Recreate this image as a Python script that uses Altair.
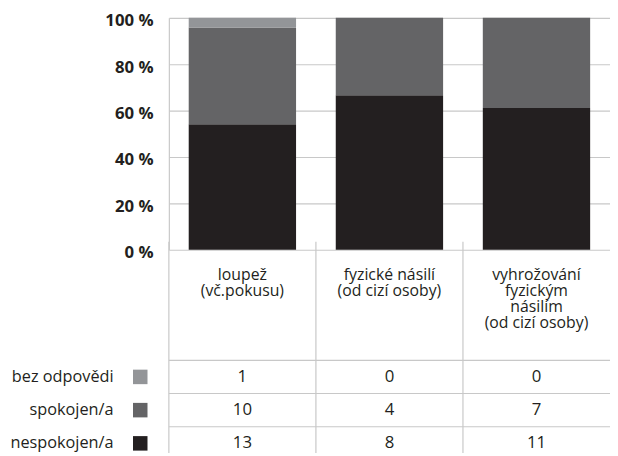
import altair as alt
import pandas as pd

# ---- data ----
categories = [
    "loupež\n(vč.pokusu)",
    "fyzické násilí\n(od cizí osoby)",
    "vyhrožování\nfyzickým\nnásilím\n(od cizí osoby)",
]
responses = ["bez odpovědi", "spokojen/a", "nespokojen/a"]
bez_odpovedi = [1, 0, 0]
spokojen = [10, 4, 7]
nespokojen = [13, 8, 11]
colors = ["#939598", "#646466", "#231f20"]
y_ticks = [0, 0.2, 0.4, 0.6, 0.8, 1.0]

rows = []
for i, cat in enumerate(categories):
    for resp, vals, order in [
        ("nespokojen/a", nespokojen, 0),
        ("spokojen/a", spokojen, 1),
        ("bez odpovědi", bez_odpovedi, 2),
    ]:
        rows.append({"cat": cat, "resp": resp, "count": vals[i], "ord": order})
df = pd.DataFrame(rows)
df_cat = pd.DataFrame({"cat": categories})
df_resp = pd.DataFrame({"resp": responses})

FONT = "Open Sans"
TXT = "#231f20"
LINE = "#c8c8c8"

x_scale = alt.Scale(domain=categories, paddingInner=0, paddingOuter=0)
color_scale = alt.Scale(domain=responses, range=colors)
table_y = alt.Scale(domain=responses, range=[347, 448], paddingInner=0, paddingOuter=0)

bars = alt.Chart(df).mark_bar(width=alt.RelativeBandSize(0.73)).encode(
    x=alt.X("cat:N", scale=x_scale, axis=None, sort=categories),
    y=alt.Y(
        "count:Q",
        stack="normalize",
        scale=alt.Scale(domain=[0, 1], range=[235, 0]),
        axis=alt.Axis(
            values=y_ticks,
            labelExpr="format(datum.value*100,'d') + ' %'",
            grid=True,
            gridColor=LINE,
            gridWidth=1.2,
            domain=True,
            domainColor=LINE,
            domainWidth=1.2,
            ticks=False,
            labelPadding=16,
            labelFontSize=17,
            labelFontWeight="bold",
            labelFont=FONT,
            labelColor=TXT,
            labelOffset=3,
            title=None,
        ),
    ),
    color=alt.Color("resp:N", scale=color_scale, legend=None),
    order=alt.Order("ord:Q"),
)

hrules = alt.Chart(df_resp).mark_rule(color=LINE, strokeWidth=1.2).encode(
    y=alt.Y("resp:N", scale=table_y, bandPosition=0, axis=None)
)

vrules = alt.Chart(df_cat).mark_rule(color=LINE, strokeWidth=1.2).encode(
    x=alt.X("cat:N", scale=x_scale, axis=None, bandPosition=0, sort=categories),
    y=alt.value(227),
    y2=alt.value(441),
)

header = alt.Chart(df_cat).mark_text(
    baseline="alphabetic", lineBreak="\n", lineHeight=16, fontSize=16, font=FONT, color=TXT
).encode(
    x=alt.X("cat:N", scale=x_scale, axis=None, sort=categories),
    y=alt.value(266),
    text="cat:N",
)

nums = alt.Chart(df).mark_text(fontSize=17, font=FONT, color=TXT).encode(
    x=alt.X("cat:N", scale=x_scale, axis=None, sort=categories),
    y=alt.Y("resp:N", scale=table_y, axis=None),
    text="count:Q",
)

squares = alt.Chart(df_resp).mark_square(size=216, opacity=1).encode(
    x=alt.value(-29),
    y=alt.Y("resp:N", scale=table_y, axis=None),
    color=alt.Color("resp:N", scale=color_scale, legend=None),
)

row_labels = alt.Chart(df_resp).mark_text(
    align="right", fontSize=16.5, font=FONT, color=TXT
).encode(
    x=alt.value(-56),
    y=alt.Y("resp:N", scale=table_y, axis=None),
    text="resp:N",
)

table = alt.layer(hrules, vrules, header, nums, squares, row_labels)

chart = (
    alt.layer(bars, table)
    .resolve_scale(y="independent")
    .properties(
        width=447,
        height=441,
        autosize=alt.AutoSizeParams(type="none"),
        padding={"left": 163, "top": 7, "right": 0, "bottom": 0},
    )
    .configure_view(stroke=None)
)

chart.save("out.html", embed_options={"renderer": "svg", "actions": False})
